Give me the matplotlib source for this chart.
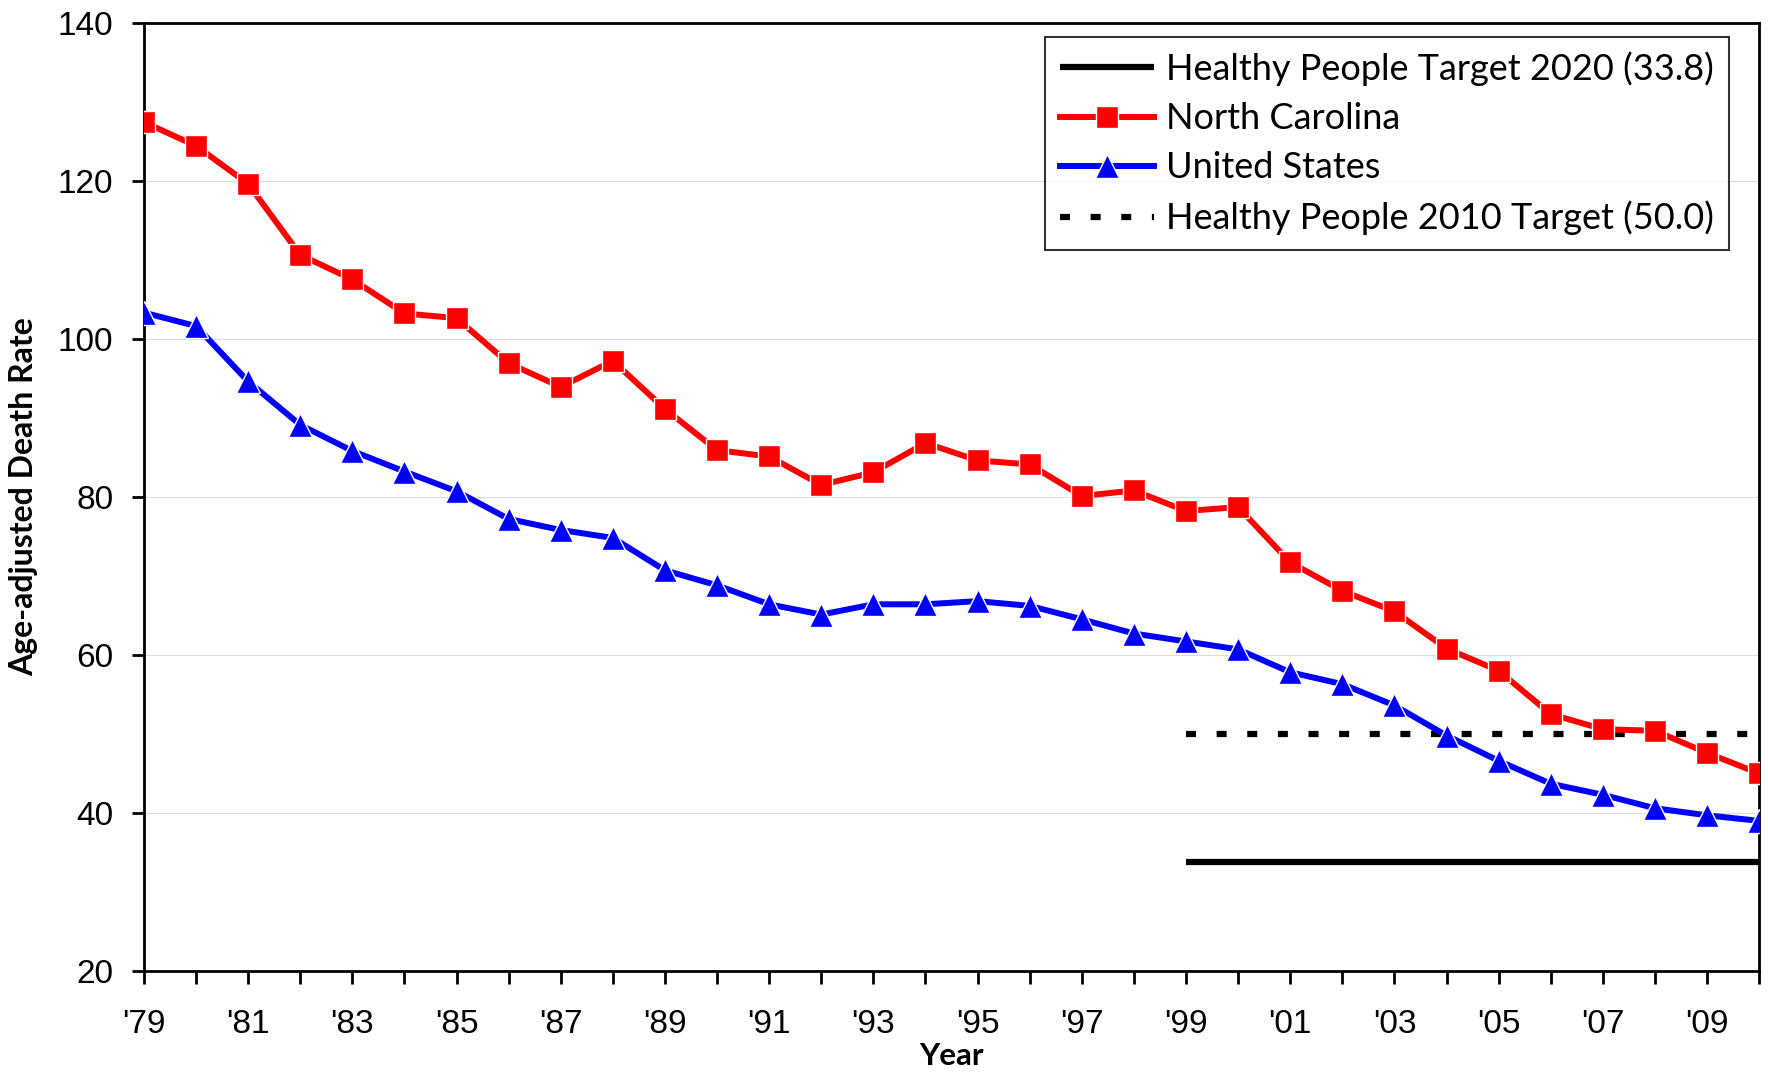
import numpy as np
import matplotlib
matplotlib.use('Agg')
import matplotlib.pyplot as plt

# --- data ---
years = list(range(1979, 2011))
nc_rate = [127.4, 124.4, 119.6, 110.6, 107.5, 103.2, 102.6, 96.9, 93.9, 97.2,
           91.1, 85.9, 85.1, 81.5, 83.1, 86.8, 84.6, 84.1, 80.1, 80.8,
           78.2, 78.7, 71.7, 68.1, 65.5, 60.8, 58.0, 52.5, 50.6, 50.4,
           47.6, 45.0]
us_rate = [103.3, 101.6, 94.6, 89.1, 85.8, 83.2, 80.7, 77.2, 75.8, 74.8,
           70.7, 68.8, 66.4, 65.1, 66.4, 66.4, 66.8, 66.2, 64.5, 62.7,
           61.7, 60.7, 57.8, 56.3, 53.6, 49.8, 46.6, 43.7, 42.3, 40.6,
           39.7, 39.0]
target_years = [1999, 2010]
hp2020 = 33.8
hp2010 = 50.0
tick_labels = ["'79", "'81", "'83", "'85", "'87", "'89", "'91", "'93", "'95",
               "'97", "'99", "'01", "'03", "'05", "'07", "'09"]

tick_font = ['Liberation Sans Narrow', 'Liberation Sans', 'DejaVu Sans']
text_font = ['Lato', 'DejaVu Sans']

fig = plt.figure(figsize=(17.68, 10.73), dpi=100)
ax = fig.add_axes([0.0814, 0.095, 0.9136, 0.884])

ax.plot(target_years, [hp2020, hp2020], color='black', linewidth=4.5,
        solid_capstyle='butt', label='Healthy People Target 2020 (33.8)', zorder=2)
ax.plot(years, nc_rate, color='#ff0000', linewidth=4.3, marker='s', markersize=15.5,
        markeredgecolor='white', markeredgewidth=1, label='North Carolina', zorder=3)
ax.plot(years, us_rate, color='#0000ff', linewidth=4.3, marker='^', markersize=17.5,
        markeredgecolor='white', markeredgewidth=1, label='United States', zorder=3)
ax.plot(target_years, [hp2010, hp2010], color='black', linewidth=4.5,
        dashes=(1.6, 3.3), dash_capstyle='butt',
        label='Healthy People 2010 Target (50.0)', zorder=2)

ax.set_xlim(1979, 2010)
ax.set_ylim(20, 140)
ax.set_yticks(np.arange(20, 141, 20))
ax.set_xticks(years)
ax.set_xticklabels([tick_labels[i // 2] if i % 2 == 0 else '' for i in range(len(years))])

ax.grid(axis='y', color='#dcdcdc', linewidth=0.8)
ax.set_axisbelow(True)
for sp in ax.spines.values():
    sp.set_linewidth(2)
    sp.set_color('black')

ax.tick_params(axis='both', direction='out', length=9, width=2, labelsize=24)
ax.tick_params(axis='x', pad=18)
ax.tick_params(axis='y', pad=13)
for lab in ax.get_xticklabels() + ax.get_yticklabels():
    lab.set_family(tick_font)

ax.set_ylabel('Age-adjusted Death Rate', fontsize=23, fontweight='bold',
              family=text_font, labelpad=14)
ax.set_xlabel('Year', fontsize=22.5, fontweight='bold', family=text_font, labelpad=2)

leg = ax.legend(loc='upper right', bbox_to_anchor=(0.9855, 0.9925),
                prop={'family': text_font, 'size': 26}, frameon=True, fancybox=False,
                edgecolor='black', handlelength=2.6, handletextpad=0.35,
                labelspacing=0.45, borderpad=0.4, borderaxespad=0.2)
leg.get_frame().set_linewidth(1.5)

fig.savefig('out.png', dpi=100)
